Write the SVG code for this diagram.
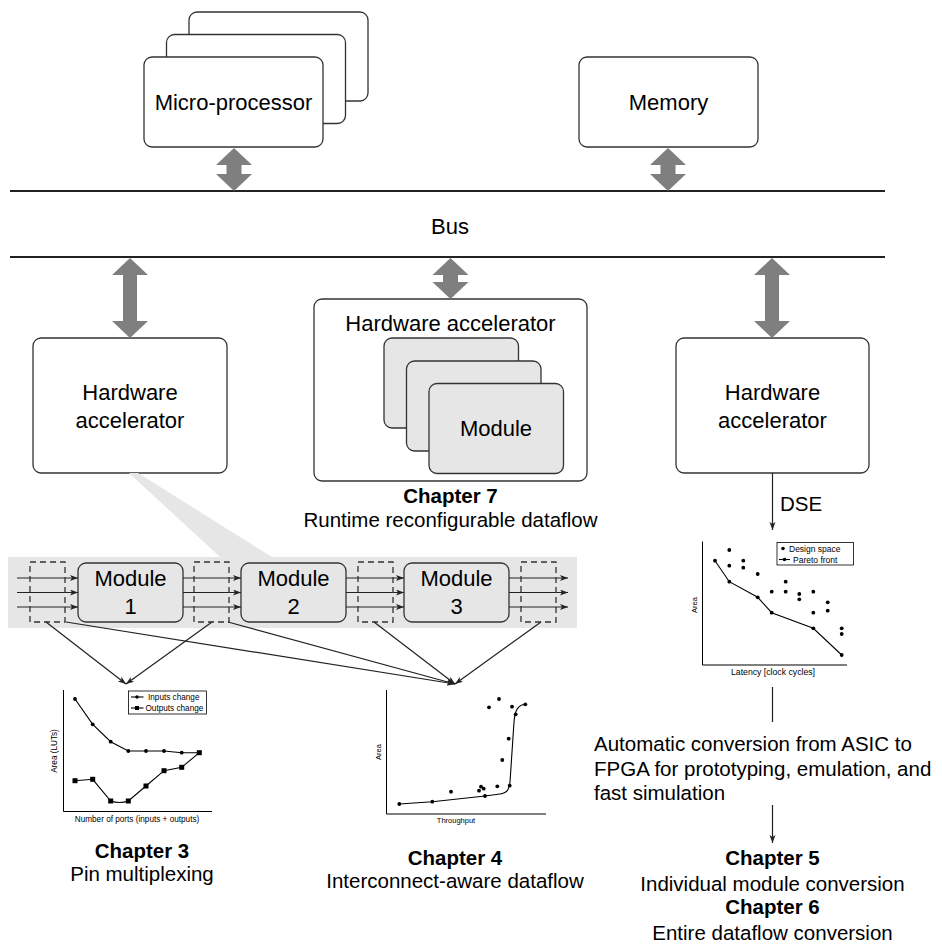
<svg xmlns="http://www.w3.org/2000/svg" width="942" height="944" viewBox="0 0 942 944">
  <style>
    text { font-family: "Liberation Sans", Arial, Helvetica, sans-serif; fill: #000; }
    .box { fill: #fff; stroke: #333; stroke-width: 1.3; }
    .gbox { fill: #e6e6e6; stroke: #333; stroke-width: 1.3; }
    .lbl { font-size: 22px; text-anchor: middle; }
    .txt { font-size: 20.5px; }
    .ctr { text-anchor: middle; }
    .bold { font-weight: bold; }
    .bus { stroke: #222; stroke-width: 2; fill: none; }
    .dbl { fill: #7f7f7f; }
    .dash { fill: none; stroke: #333; stroke-width: 1.3; stroke-dasharray: 6 4; }
    .wire { stroke: #222; stroke-width: 1.2; fill: none; }
    .axis { stroke: #000; stroke-width: 1; fill: none; }
    .curve { stroke: #000; stroke-width: 1.1; fill: none; }
    .dot { fill: #000; }
    .small { font-size: 8.2px; }
  </style>
  <defs>
    <marker id="head" markerWidth="10" markerHeight="8" refX="8" refY="3" orient="auto" markerUnits="userSpaceOnUse">
      <path d="M0,0 L8,3 L0,6 L2,3 z" fill="#222"/>
    </marker>
  </defs>

  <!-- system bus -->
  <g id="bus">
    <line class="bus" x1="10" y1="191" x2="885" y2="191"/>
    <line class="bus" x1="10" y1="257" x2="885" y2="257"/>
    <text class="lbl" x="450" y="234">Bus</text>
  </g>

  <!-- processors -->
  <g id="microprocessor">
    <rect class="box" x="189" y="12" width="179" height="89" rx="8"/>
    <rect class="box" x="166.5" y="34.5" width="179" height="89" rx="8"/>
    <rect class="box" x="144" y="57" width="179" height="90" rx="8"/>
    <text class="lbl" x="233.5" y="110">Micro-processor</text>
  </g>

  <g id="memory">
    <rect class="box" x="579" y="57" width="179" height="90" rx="8"/>
    <text class="lbl" x="668.5" y="110">Memory</text>
  </g>

  <!-- accelerators -->
  <g id="accel-left">
    <rect class="box" x="33" y="338" width="194" height="135" rx="8"/>
    <text class="lbl" x="130" y="400">Hardware</text>
    <text class="lbl" x="130" y="428">accelerator</text>
  </g>

  <g id="accel-mid">
    <rect class="box" x="314" y="299" width="273" height="182" rx="8"/>
    <text class="lbl" x="450.5" y="331">Hardware accelerator</text>
    <rect class="gbox" x="384" y="338" width="134.5" height="90" rx="8"/>
    <rect class="gbox" x="406.5" y="361" width="134.5" height="90" rx="8"/>
    <rect class="gbox" x="429" y="383.5" width="134.5" height="90" rx="8"/>
    <text class="lbl" x="496" y="436">Module</text>
  </g>

  <g id="accel-right">
    <rect class="box" x="676" y="338" width="193" height="135" rx="8"/>
    <text class="lbl" x="772.5" y="400">Hardware</text>
    <text class="lbl" x="772.5" y="428">accelerator</text>
  </g>

  <g id="chapter7">
    <text class="txt ctr bold" x="450.5" y="503">Chapter 7</text>
    <text class="txt ctr" x="450.5" y="527">Runtime reconfigurable dataflow</text>
  </g>

  <!-- bus links (double-headed) -->
  <g id="bus-links">
    <polygon class="dbl" points="234,148 252,165 241.5,165 241.5,174 252,174 234,191 216,174 226.5,174 226.5,165 216,165"/>
    <polygon class="dbl" points="668,148 686,165 675.5,165 675.5,174 686,174 668,191 650,174 660.5,174 660.5,165 650,165"/>
    <polygon class="dbl" points="130,258 148,275 137,275 137,321 148,321 130,338 112,321 123,321 123,275 112,275"/>
    <polygon class="dbl" points="450.5,258 468.5,275 458,275 458,282 468.5,282 450.5,299 432.5,282 443,282 443,275 432.5,275"/>
    <polygon class="dbl" points="772,258 790,275 779,275 779,321 790,321 772,338 754,321 765,321 765,275 754,275"/>
  </g>

  <!-- zoom wedge and dataflow strip -->
  <g id="dataflow">
    <polygon points="129,473 138,473 272,557 220,557" fill="#e6e6e6"/>
    <rect x="8" y="557" width="569" height="71" fill="#e6e6e6"/>
    <g id="module1">
      <rect class="gbox" x="78" y="563" width="105" height="59" rx="8"/>
      <text class="lbl" x="130.5" y="586">Module</text>
      <text class="lbl" x="130.5" y="614">1</text>
    </g>
    <g id="module2">
      <rect class="gbox" x="241" y="563" width="105" height="59" rx="8"/>
      <text class="lbl" x="293.5" y="586">Module</text>
      <text class="lbl" x="293.5" y="614">2</text>
    </g>
    <g id="module3">
      <rect class="gbox" x="404" y="563" width="105" height="59" rx="8"/>
      <text class="lbl" x="456.5" y="586">Module</text>
      <text class="lbl" x="456.5" y="614">3</text>
    </g>
    <g id="stage-wires">
      <line class="wire" x1="17" y1="578" x2="78" y2="578" marker-end="url(#head)"/>
      <line class="wire" x1="17" y1="592.5" x2="78" y2="592.5" marker-end="url(#head)"/>
      <line class="wire" x1="17" y1="607" x2="78" y2="607" marker-end="url(#head)"/>
      <line class="wire" x1="183" y1="578" x2="241" y2="578" marker-end="url(#head)"/>
      <line class="wire" x1="183" y1="592.5" x2="241" y2="592.5" marker-end="url(#head)"/>
      <line class="wire" x1="183" y1="607" x2="241" y2="607" marker-end="url(#head)"/>
      <line class="wire" x1="346" y1="578" x2="404" y2="578" marker-end="url(#head)"/>
      <line class="wire" x1="346" y1="592.5" x2="404" y2="592.5" marker-end="url(#head)"/>
      <line class="wire" x1="346" y1="607" x2="404" y2="607" marker-end="url(#head)"/>
      <line class="wire" x1="509" y1="578" x2="568" y2="578" marker-end="url(#head)"/>
      <line class="wire" x1="509" y1="592.5" x2="568" y2="592.5" marker-end="url(#head)"/>
      <line class="wire" x1="509" y1="607" x2="568" y2="607" marker-end="url(#head)"/>
    </g>
    <rect class="dash" x="30" y="562" width="35" height="60"/>
    <rect class="dash" x="194" y="562" width="35" height="60"/>
    <rect class="dash" x="358" y="562" width="35" height="60"/>
    <rect class="dash" x="521" y="562" width="35" height="60"/>
  </g>

  <!-- connectors -->
  <g id="connectors">
    <line class="wire" x1="46" y1="622" x2="126" y2="684" marker-end="url(#head)"/>
    <line class="wire" x1="212" y1="622" x2="126" y2="684" marker-end="url(#head)"/>
    <line class="wire" x1="66" y1="622" x2="455" y2="684" marker-end="url(#head)"/>
    <line class="wire" x1="228" y1="622" x2="455" y2="684" marker-end="url(#head)"/>
    <line class="wire" x1="374" y1="622" x2="455" y2="684" marker-end="url(#head)"/>
    <line class="wire" x1="541" y1="622" x2="455" y2="684" marker-end="url(#head)"/>
    <line class="wire" x1="772.5" y1="473" x2="772.5" y2="530" marker-end="url(#head)"/>
    <line class="wire" x1="772.5" y1="687" x2="772.5" y2="722"/>
    <line class="wire" x1="772.5" y1="805" x2="772.5" y2="843" marker-end="url(#head)"/>
  </g>
  <text class="txt" x="780" y="511">DSE</text>

  <!-- pin multiplexing chart -->
  <g id="chart-pins">
    <path class="axis" d="M63.5,690 V811.5 H212"/>
    <text class="small ctr" x="137" y="822">Number of ports (inputs + outputs)</text>
    <text class="small ctr" transform="translate(57,751) rotate(-90)">Area (LUTs)</text>
    <polyline class="curve" points="75,699 92.7,724.3 110.7,741.7 128.3,751 146,751 164,751 181.7,752.7 199.3,752.7"/>
    <g class="dot">
      <circle cx="75" cy="699" r="1.9"/><circle cx="92.7" cy="724.3" r="1.9"/><circle cx="110.7" cy="741.7" r="1.9"/>
      <circle cx="128.3" cy="751" r="1.9"/><circle cx="146" cy="751" r="1.9"/><circle cx="164" cy="751" r="1.9"/>
      <circle cx="181.7" cy="752.7" r="1.9"/>
    </g>
    <path class="curve" d="M75,780.7 L92.7,779.3 L110.7,801 Q119.5,804 128.3,801 L146,786 L164,770.7 L181.7,767.3 L199.3,752.7"/>
    <g class="dot">
      <rect x="72.5" y="778.2" width="5" height="5"/><rect x="90.2" y="776.8" width="5" height="5"/>
      <rect x="108.2" y="798.5" width="5" height="5"/><rect x="125.8" y="798.5" width="5" height="5"/>
      <rect x="143.5" y="783.5" width="5" height="5"/><rect x="161.5" y="768.2" width="5" height="5"/>
      <rect x="179.2" y="764.8" width="5" height="5"/><rect x="196.8" y="750.2" width="5" height="5"/>
    </g>
    <rect x="128.5" y="691" width="78" height="23" fill="#fff" stroke="#000" stroke-width="0.8"/>
    <line class="curve" x1="131" y1="697" x2="143.5" y2="697"/>
    <circle class="dot" cx="137" cy="697" r="1.7"/>
    <text class="small" x="148" y="700">Inputs change</text>
    <line class="curve" x1="131" y1="708" x2="143.5" y2="708"/>
    <rect class="dot" x="135" y="706" width="4" height="4"/>
    <text class="small" x="145.5" y="711">Outputs change</text>
  </g>

  <!-- interconnect chart -->
  <g id="chart-interconnect">
    <path class="axis" d="M386.5,690 V814 H546"/>
    <text class="ctr" font-size="7.5" x="456" y="823">Throughput</text>
    <text class="ctr" font-size="7.5" transform="translate(381,752) rotate(-90)">Area</text>
    <path class="curve" d="M399.3,804 L432.3,801.7 L485,796 L500,794 C507,793 509,790 510,782 L514,722 C515,710 518,705 525.3,704.3"/>
    <g class="dot">
      <circle cx="399.3" cy="804" r="1.9"/><circle cx="432.3" cy="801.7" r="1.9"/><circle cx="451" cy="791.7" r="1.9"/>
      <circle cx="479" cy="790.7" r="1.9"/><circle cx="481" cy="786.7" r="1.9"/><circle cx="483.7" cy="788.7" r="1.9"/>
      <circle cx="485" cy="796" r="1.9"/><circle cx="497.3" cy="786.3" r="1.9"/><circle cx="489" cy="707.3" r="1.9"/>
      <circle cx="499" cy="699" r="1.9"/><circle cx="512" cy="706.7" r="1.9"/><circle cx="502.3" cy="760" r="1.9"/>
      <circle cx="508.7" cy="738.7" r="1.9"/><circle cx="509.7" cy="785.7" r="1.9"/><circle cx="515.7" cy="714.3" r="1.9"/>
      <circle cx="525.3" cy="704.3" r="1.9"/>
    </g>
  </g>

  <!-- design space chart -->
  <g id="chart-dse">
    <path class="axis" d="M702.5,541.5 V665 H847"/>
    <text class="ctr" font-size="8.7" x="773" y="675">Latency [clock cycles]</text>
    <text class="ctr" font-size="7.5" transform="translate(697,605) rotate(-90)">Area</text>
    <polyline class="curve" points="715,560.7 729.3,581.7 757.7,597.3 771.7,612.7 813.3,628.3 841.7,655"/>
    <g class="dot">
      <circle cx="715" cy="560.7" r="1.9"/><circle cx="729.3" cy="581.7" r="1.9"/><circle cx="757.7" cy="597.3" r="1.9"/>
      <circle cx="771.7" cy="612.7" r="1.9"/><circle cx="813.3" cy="628.3" r="1.9"/><circle cx="841.7" cy="655" r="1.9"/>
      <circle cx="729.3" cy="550" r="1.9"/><circle cx="729.3" cy="565.7" r="1.9"/><circle cx="743.3" cy="560.7" r="1.9"/>
      <circle cx="743.3" cy="567.7" r="1.9"/><circle cx="757.7" cy="574" r="1.9"/><circle cx="771.7" cy="591.7" r="1.9"/>
      <circle cx="785.7" cy="581.7" r="1.9"/><circle cx="785.7" cy="591.7" r="1.9"/><circle cx="799.3" cy="594" r="1.9"/>
      <circle cx="799.3" cy="599.3" r="1.9"/><circle cx="813.3" cy="591.7" r="1.9"/><circle cx="813.3" cy="612.7" r="1.9"/>
      <circle cx="827.7" cy="602.3" r="1.9"/><circle cx="827.7" cy="610.7" r="1.9"/><circle cx="841.7" cy="628.3" r="1.9"/>
      <circle cx="841.7" cy="634" r="1.9"/>
    </g>
    <rect x="777" y="542.5" width="76.5" height="22.5" fill="#fff" stroke="#000" stroke-width="0.8"/>
    <circle class="dot" cx="783" cy="548.5" r="1.8"/>
    <text font-size="8.5" x="789" y="551.5">Design space</text>
    <line class="curve" x1="779" y1="559.5" x2="790" y2="559.5"/>
    <circle class="dot" cx="784.5" cy="559.5" r="1.8"/>
    <text font-size="8.5" x="793" y="562.5">Pareto front</text>
  </g>

  <!-- captions -->
  <g id="chapter3">
    <text class="txt ctr bold" x="142" y="858">Chapter 3</text>
    <text class="txt ctr" x="142" y="881">Pin multiplexing</text>
  </g>
  <g id="chapter4">
    <text class="txt ctr bold" x="455" y="865">Chapter 4</text>
    <text class="txt ctr" x="455" y="888">Interconnect-aware dataflow</text>
  </g>
  <g id="conversion">
    <text class="txt" x="594" y="751">Automatic conversion from ASIC to</text>
    <text class="txt" x="594" y="776">FPGA for prototyping, emulation, and</text>
    <text class="txt" x="594" y="800">fast simulation</text>
  </g>
  <g id="chapter5-6">
    <text class="txt ctr bold" x="772.5" y="865">Chapter 5</text>
    <text class="txt ctr" x="772.5" y="891">Individual module conversion</text>
    <text class="txt ctr bold" x="772.5" y="914">Chapter 6</text>
    <text class="txt ctr" x="772.5" y="940">Entire dataflow conversion</text>
  </g>
</svg>
